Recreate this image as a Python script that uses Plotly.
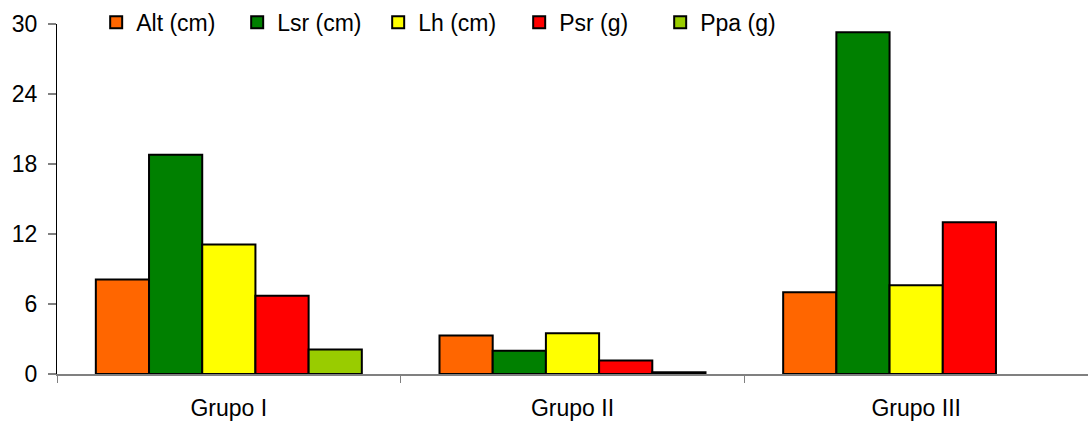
import plotly.graph_objects as go

categories = ["Grupo I", "Grupo II", "Grupo III"]
series_names = ["Alt (cm)", "Lsr (cm)", "Lh (cm)", "Psr (g)", "Ppa (g)"]
alt = [8.1, 3.3, 7.0]
lsr = [18.8, 2.0, 29.3]
lh = [11.1, 3.5, 7.6]
psr = [6.7, 1.15, 13.0]
ppa = [2.1, 0.15, None]
colors = ["#FF6600", "#008000", "#FFFF00", "#FF0000", "#99CC00"]
y_ticks = [0, 6, 12, 18, 24, 30]

fig = go.Figure()
for name, vals, col in zip(series_names, [alt, lsr, lh, psr, ppa], colors):
    fig.add_trace(go.Bar(x=categories, y=vals, name=name,
                         marker=dict(color=col, line=dict(color="black", width=2))))

fig.update_layout(
    width=1088, height=423,
    margin=dict(l=57, r=0, t=24, b=49),
    paper_bgcolor="white", plot_bgcolor="white",
    barmode="group", bargap=0.226, bargroupgap=0,
    font=dict(family="Liberation Sans, Arial, sans-serif", size=23, color="black"),
    legend=dict(orientation="h", x=0.038, xanchor="left", y=1.005, yanchor="middle",
                bgcolor="rgba(0,0,0,0)", font=dict(size=23), traceorder="normal",
                entrywidth=96, entrywidthmode="pixels"),
    xaxis=dict(showline=True, linecolor="#808080", linewidth=2, ticks="outside",
               tickson="boundaries", ticklen=7, tickcolor="#808080", tickwidth=1,
               showgrid=False, zeroline=False, ticklabelstandoff=12),
    yaxis=dict(range=[0, 30], tickvals=y_ticks, showline=True, linecolor="black",
               linewidth=1, ticks="outside", ticklen=8, tickcolor="#808080",
               tickwidth=2, showgrid=False, zeroline=False, ticklabelstandoff=6),
)
fig.write_html("out.html")
